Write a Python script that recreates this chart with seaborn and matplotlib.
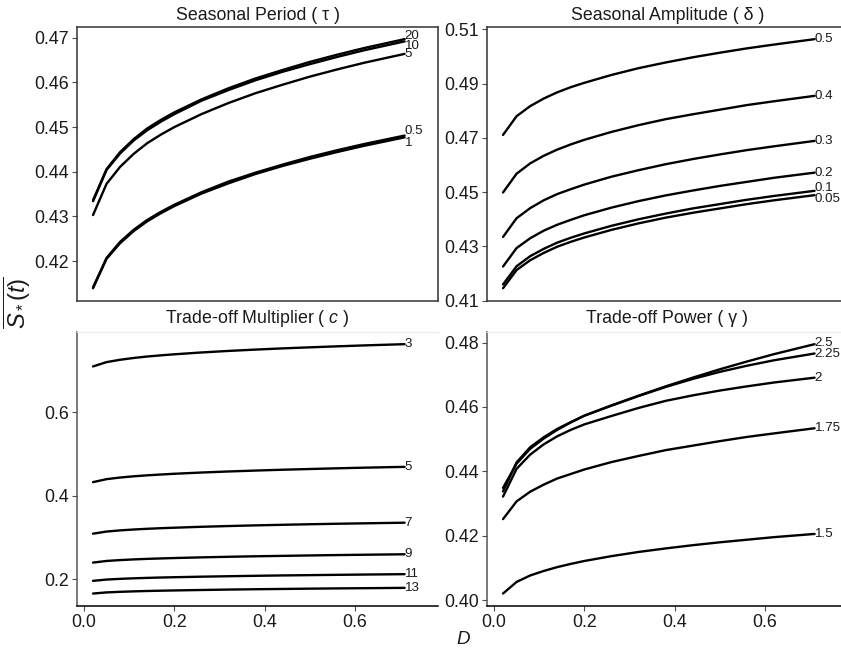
import matplotlib
matplotlib.use("Agg")
import matplotlib.pyplot as plt
import pandas as pd
import seaborn as sns

# Dispersal rate values shared by every panel
D = [0.02, 0.05, 0.08, 0.11, 0.14, 0.17, 0.20, 0.26, 0.32, 0.38, 0.44, 0.50, 0.56, 0.62, 0.71]

# Seasonal period (tau)
tau_levels = ["20", "10", "5", "0.5", "1"]
tau_values = [
    [0.4336, 0.4406, 0.4444, 0.4473, 0.4497, 0.4516, 0.4533, 0.4562, 0.4587, 0.4609, 0.4628, 0.4646, 0.4662, 0.4677, 0.4697],
    [0.4334, 0.4404, 0.4441, 0.4470, 0.4493, 0.4512, 0.4529, 0.4559, 0.4583, 0.4605, 0.4624, 0.4641, 0.4657, 0.4672, 0.4692],
    [0.4303, 0.4373, 0.4411, 0.4440, 0.4464, 0.4483, 0.4500, 0.4529, 0.4554, 0.4576, 0.4595, 0.4613, 0.4629, 0.4644, 0.4664],
    [0.4141, 0.4207, 0.4243, 0.4270, 0.4292, 0.4310, 0.4326, 0.4354, 0.4378, 0.4398, 0.4416, 0.4433, 0.4448, 0.4462, 0.4481],
    [0.4139, 0.4205, 0.4240, 0.4267, 0.4289, 0.4307, 0.4323, 0.4351, 0.4374, 0.4395, 0.4413, 0.4429, 0.4444, 0.4458, 0.4477],
]

# Seasonal amplitude (delta)
delta_levels = ["0.5", "0.4", "0.3", "0.2", "0.1", "0.05"]
delta_values = [
    [0.4711, 0.4780, 0.4817, 0.4845, 0.4868, 0.4887, 0.4903, 0.4932, 0.4957, 0.4978, 0.4997, 0.5014, 0.5030, 0.5044, 0.5064],
    [0.4499, 0.4568, 0.4606, 0.4634, 0.4657, 0.4676, 0.4693, 0.4722, 0.4747, 0.4769, 0.4787, 0.4804, 0.4821, 0.4835, 0.4855],
    [0.4335, 0.4404, 0.4441, 0.4470, 0.4493, 0.4511, 0.4528, 0.4557, 0.4581, 0.4603, 0.4622, 0.4639, 0.4655, 0.4669, 0.4689],
    [0.4226, 0.4294, 0.4330, 0.4358, 0.4380, 0.4398, 0.4415, 0.4443, 0.4467, 0.4488, 0.4506, 0.4523, 0.4538, 0.4553, 0.4572],
    [0.4160, 0.4227, 0.4264, 0.4291, 0.4314, 0.4332, 0.4348, 0.4376, 0.4400, 0.4421, 0.4440, 0.4456, 0.4472, 0.4486, 0.4505],
    [0.4146, 0.4213, 0.4249, 0.4276, 0.4299, 0.4317, 0.4333, 0.4361, 0.4385, 0.4406, 0.4424, 0.4440, 0.4456, 0.4470, 0.4489],
]

# Trade-off multiplier (c)
c_levels = ["3", "5", "7", "9", "11", "13"]
c_values = [
    [0.7100, 0.7204, 0.7260, 0.7303, 0.7338, 0.7366, 0.7391, 0.7435, 0.7472, 0.7504, 0.7533, 0.7558, 0.7582, 0.7604, 0.7634],
    [0.4327, 0.4398, 0.4437, 0.4466, 0.4490, 0.4509, 0.4527, 0.4557, 0.4582, 0.4604, 0.4624, 0.4641, 0.4658, 0.4673, 0.4693],
    [0.3091, 0.3142, 0.3170, 0.3191, 0.3208, 0.3222, 0.3234, 0.3256, 0.3274, 0.3290, 0.3304, 0.3317, 0.3329, 0.3339, 0.3354],
    [0.2398, 0.2437, 0.2458, 0.2474, 0.2487, 0.2497, 0.2507, 0.2523, 0.2537, 0.2549, 0.2559, 0.2569, 0.2578, 0.2586, 0.2597],
    [0.1960, 0.1991, 0.2008, 0.2021, 0.2031, 0.2040, 0.2047, 0.2060, 0.2071, 0.2081, 0.2090, 0.2097, 0.2104, 0.2111, 0.2120],
    [0.1656, 0.1683, 0.1697, 0.1708, 0.1717, 0.1724, 0.1730, 0.1741, 0.1751, 0.1759, 0.1766, 0.1773, 0.1779, 0.1784, 0.1792],
]

# Trade-off power (gamma)
gamma_levels = ["2.5", "2.25", "2", "1.75", "1.5"]
gamma_values = [
    [0.4338, 0.4428, 0.4475, 0.4506, 0.4532, 0.4553, 0.4573, 0.4605, 0.4635, 0.4664, 0.4691, 0.4717, 0.4741, 0.4764, 0.4795],
    [0.4349, 0.4424, 0.4470, 0.4502, 0.4529, 0.4552, 0.4573, 0.4604, 0.4634, 0.4662, 0.4687, 0.4709, 0.4728, 0.4745, 0.4766],
    [0.4322, 0.4408, 0.4452, 0.4484, 0.4509, 0.4529, 0.4546, 0.4572, 0.4597, 0.4619, 0.4636, 0.4651, 0.4664, 0.4676, 0.4691],
    [0.4252, 0.4307, 0.4337, 0.4359, 0.4378, 0.4392, 0.4406, 0.4429, 0.4448, 0.4466, 0.4480, 0.4494, 0.4507, 0.4518, 0.4534],
    [0.4021, 0.4057, 0.4077, 0.4091, 0.4103, 0.4113, 0.4122, 0.4137, 0.4150, 0.4161, 0.4171, 0.4180, 0.4188, 0.4196, 0.4206],
]

# Vertical nudges (points) for end labels that would otherwise collide
tau_nudge = {"20": 2.5, "10": -3.5, "0.5": 3.0, "1": -4.0}
delta_nudge = {"0.1": 2.0, "0.05": -2.5}
gamma_nudge = {"2.5": 0.5, "2.25": -0.5}

sns.set_theme(style="white")
plt.rcParams["font.family"] = ["Liberation Sans", "DejaVu Sans"]
plt.rcParams["mathtext.fontset"] = "custom"
plt.rcParams["mathtext.rm"] = "Liberation Sans"
plt.rcParams["mathtext.it"] = "Liberation Sans:italic"
plt.rcParams["mathtext.bf"] = "Liberation Sans:bold"


def long_frame(levels, values):
    rows = []
    for lev, ys in zip(levels, values):
        for d, s in zip(D, ys):
            rows.append({"D": d, "S": s, "level": lev})
    return pd.DataFrame(rows)


W, H = 841, 653
fig = plt.figure(figsize=(W / 100, H / 100), dpi=100)


def px_axes(left, top, width, height):
    return fig.add_axes([left / W, 1 - (top + height) / H, width / W, height / H])


panel_w = 361
ax_tl = px_axes(77, 26.7, panel_w, 274)
ax_tr = px_axes(487, 26.7, panel_w, 274)
ax_bl = px_axes(77, 331.7, panel_w, 274.3)
ax_br = px_axes(487, 331.7, panel_w, 274.3)

panels = [
    (ax_tl, tau_levels, tau_values, tau_nudge, "Seasonal Period ( τ )",
     [0.42, 0.43, 0.44, 0.45, 0.46, 0.47], "{:.2f}", True),
    (ax_tr, delta_levels, delta_values, delta_nudge, "Seasonal Amplitude ( δ )",
     [0.41, 0.43, 0.45, 0.47, 0.49, 0.51], "{:.2f}", True),
    (ax_bl, c_levels, c_values, {}, r"Trade-off Multiplier ( $\mathit{c}$ )",
     [0.2, 0.4, 0.6], "{:.1f}", False),
    (ax_br, gamma_levels, gamma_values, gamma_nudge, "Trade-off Power ( γ )",
     [0.40, 0.42, 0.44, 0.46, 0.48], "{:.2f}", False),
]

for ax, levels, values, nudge, title, yticks, fmt, top_row in panels:
    df = long_frame(levels, values)
    sns.lineplot(data=df, x="D", y="S", hue="level", hue_order=levels,
                 palette=["black"] * len(levels), estimator=None, sort=False,
                 legend=False, linewidth=1.7, ax=ax)
    ymin = min(min(v) for v in values)
    ymax = max(max(v) for v in values)
    pad = 0.05 * (ymax - ymin)
    ax.set_ylim(ymin - pad, ymax + pad)
    ax.set_xlim(-0.0155, 0.784)
    ax.set_yticks(yticks)
    ax.set_yticklabels([fmt.format(t) for t in yticks])
    ax.set_xlabel("")
    ax.set_ylabel("")
    ax.set_title(title, fontsize=12.8, pad=5 if top_row else 6, color="#1a1a1a")
    ax.tick_params(axis="y", which="both", left=True, length=3.5, width=0.8,
                   color="#4d4d4d", labelsize=12.8, labelcolor="#1a1a1a", pad=2)

    # end-of-line labels naming each parameter level
    for lev, ys in zip(levels, values):
        ax.annotate(lev, xy=(D[-1], ys[-1]), xytext=(0, nudge.get(lev, 0.0)),
                    textcoords="offset points", ha="left", va="center",
                    fontsize=9.6, color="#1a1a1a", annotation_clip=False)

    if top_row:
        ax.set_xticks([])
        for side in ("left", "right", "top", "bottom"):
            ax.spines[side].set_visible(True)
            ax.spines[side].set_color("#333333")
            ax.spines[side].set_linewidth(1.1)
    else:
        ax.set_xticks([0.0, 0.2, 0.4, 0.6])
        ax.set_xticklabels(["0.0", "0.2", "0.4", "0.6"])
        ax.tick_params(axis="x", which="both", bottom=True, length=3.5, width=0.8,
                       color="#4d4d4d", labelsize=12.8, labelcolor="#1a1a1a", pad=2)
        ax.spines["right"].set_visible(False)
        ax.spines["top"].set_visible(True)
        ax.spines["top"].set_color("#ececec")
        ax.spines["top"].set_linewidth(0.8)
        ax.spines["left"].set_color("#555555")
        ax.spines["left"].set_linewidth(1.1)
        ax.spines["bottom"].set_color("black")
        ax.spines["bottom"].set_linewidth(1.1)

fig.text(463 / W, 1 - 640 / H, "D", fontsize=13.5, style="italic",
         ha="center", va="center", color="#1a1a1a")
fig.text(17 / W, 1 - 303 / H, r"$\overline{S_*(t)}$", fontsize=17,
         rotation=90, ha="center", va="center", color="#1a1a1a")

fig.savefig("out.png", dpi=100, facecolor="white")
